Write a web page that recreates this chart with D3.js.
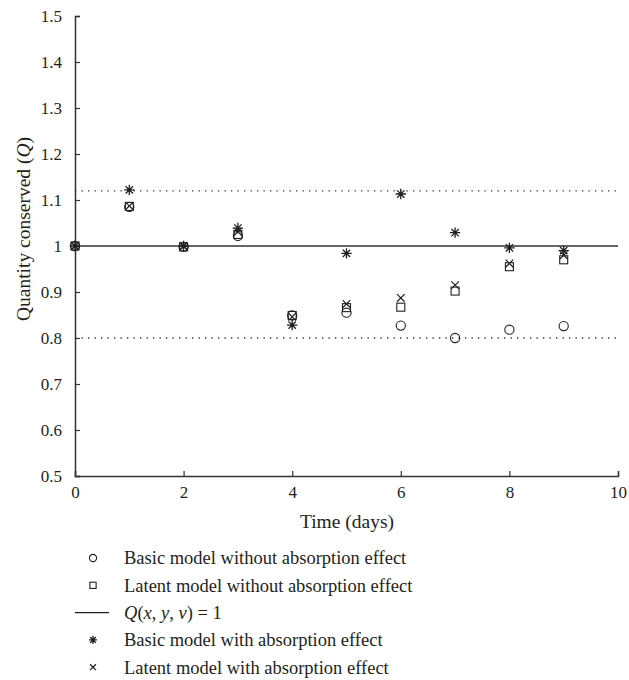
<!DOCTYPE html>
<html>
<head>
<meta charset="utf-8">
<script src="https://cdn.jsdelivr.net/npm/d3@7"></script>
<style>
  body { margin: 0; background: #fff; }
  text { font-family: "Liberation Serif", "DejaVu Serif", serif; fill: #231f20; }
</style>
</head>
<body>
<div id="chart"></div>
<script>
// Quantity conserved over time
var days = [0, 1, 2, 3, 4, 5, 6, 7, 8, 9];
var basicNoAbs = [1.0, 1.085, 0.998, 1.022, 0.849, 0.855, 0.827, 0.800, 0.818, 0.826];
var latentNoAbs = [1.0, 1.086, 0.998, 1.025, 0.849, 0.866, 0.867, 0.902, 0.955, 0.970];
var basicAbs = [1.0, 1.122, 1.0, 1.039, 0.828, 0.984, 1.113, 1.029, 0.996, 0.990];
var latentAbs = [1.0, 1.087, 0.999, 1.031, 0.846, 0.874, 0.887, 0.915, 0.962, 0.980];
var bounds = [1.12, 0.8];
var yTicks = [0.5, 0.6, 0.7, 0.8, 0.9, 1, 1.1, 1.2, 1.3, 1.4, 1.5];
var xTicks = [0, 2, 4, 6, 8, 10];
var legendLabels = [
    "Basic model without absorption effect",
    "Latent model without absorption effect",
    "Q(x, y, v) = 1",
    "Basic model with absorption effect",
    "Latent model with absorption effect"
];

var svgWidth = 629;
var svgHeight = 680;
var margin = { top: 16, right: 11, bottom: 204, left: 75 };
var width = svgWidth - margin.left - margin.right;
var height = svgHeight - margin.top - margin.bottom;
var ink = "#231f20";

var svg = d3.select("#chart")
    .append("svg")
    .attr("width", svgWidth)
    .attr("height", svgHeight);

var chartGroup = svg.append("g")
    .attr("transform", `translate(${margin.left}, ${margin.top})`);

var x = d3.scaleLinear().domain([0, 10]).range([0, width]);
var y = d3.scaleLinear().domain([0.5, 1.5]).range([height, 0]);

// axes with inward ticks
var bottomAxis = d3.axisBottom(x).tickValues(xTicks).tickSize(-5).tickPadding(10).tickFormat(d3.format("d"));
var leftAxis = d3.axisLeft(y).tickValues(yTicks).tickSize(-5).tickPadding(13).tickFormat(d => d === 1 ? "1" : d3.format(".1f")(d));

var xg = chartGroup.append("g")
    .attr("transform", `translate(0, ${height})`)
    .call(bottomAxis);
var yg = chartGroup.append("g").call(leftAxis);

[xg, yg].forEach(function (g) {
    g.select(".domain").attr("stroke", "#333").attr("stroke-width", 1.5);
    g.selectAll(".tick line").attr("stroke", "#333").attr("stroke-width", 1.2);
    g.selectAll(".tick text")
        .attr("font-family", "Liberation Serif, serif")
        .attr("font-size", "17px")
        .attr("fill", ink);
});
yg.selectAll(".tick text").attr("dy", "0.35em");

// reference lines
chartGroup.append("line")
    .attr("x1", x(0)).attr("x2", x(10))
    .attr("y1", y(1)).attr("y2", y(1))
    .attr("stroke", "#333").attr("stroke-width", 1.5);

chartGroup.selectAll(".bound")
    .data(bounds)
    .enter()
    .append("line")
    .attr("class", "bound")
    .attr("x1", x(0)).attr("x2", x(10))
    .attr("y1", d => y(d)).attr("y2", d => y(d))
    .attr("stroke", "#333")
    .attr("stroke-width", 1.3)
    .attr("stroke-dasharray", "1.3,5.2");

// marker paths
function starPath(r) {
    var p = "";
    for (var i = 0; i < 4; i++) {
        var a = i * Math.PI / 4;
        var dx = r * Math.cos(a), dy = r * Math.sin(a);
        p += `M${-dx},${-dy}L${dx},${dy}`;
    }
    return p;
}
function crossPath(r) {
    return `M${-r},${-r}L${r},${r}M${-r},${r}L${r},${-r}`;
}

function drawMarkers(values, kind, big) {
    var g = chartGroup.append("g");
    var pts = g.selectAll("g")
        .data(values)
        .enter()
        .append("g")
        .attr("transform", (d, i) => `translate(${x(days[i])}, ${y(d)})`);
    addShape(pts, kind, big);
}

function addShape(sel, kind, big) {
    var s = big ? 1 : 0.78;
    if (kind === "circle") {
        sel.append("circle").attr("r", 4.6 * s)
            .attr("fill", "none").attr("stroke", ink).attr("stroke-width", 1.1);
    } else if (kind === "square") {
        sel.append("rect").attr("x", -4 * s).attr("y", -4 * s)
            .attr("width", 8 * s).attr("height", 8 * s)
            .attr("fill", "none").attr("stroke", ink).attr("stroke-width", 1.1);
    } else if (kind === "star") {
        sel.append("path").attr("d", starPath(5.2 * s))
            .attr("fill", "none").attr("stroke", ink).attr("stroke-width", 1.3);
    } else if (kind === "cross") {
        sel.append("path").attr("d", crossPath(3.8 * s))
            .attr("fill", "none").attr("stroke", ink).attr("stroke-width", 1.2);
    }
}

drawMarkers(basicNoAbs, "circle", true);
drawMarkers(latentNoAbs, "square", true);
drawMarkers(latentAbs, "cross", true);
drawMarkers(basicAbs, "star", true);

// axis labels
svg.append("text")
    .attr("x", 347)
    .attr("y", 528)
    .attr("text-anchor", "middle")
    .attr("font-size", "19.5px")
    .text("Time (days)");

var yLabel = svg.append("text")
    .attr("transform", "translate(30, 229) rotate(-90)")
    .attr("text-anchor", "middle")
    .attr("font-size", "19.5px");
yLabel.append("tspan").text("Quantity conserved (");
yLabel.append("tspan").attr("font-style", "italic").text("Q");
yLabel.append("tspan").text(")");

// legend
var kinds = ["circle", "square", "line", "star", "cross"];
var legend = svg.append("g");
var rows = legend.selectAll("g")
    .data(legendLabels)
    .enter()
    .append("g")
    .attr("transform", (d, i) => `translate(93, ${558 + i * 27.3})`);

rows.each(function (d, i) {
    var row = d3.select(this);
    if (kinds[i] === "line") {
        row.append("line").attr("x1", -18).attr("x2", 16)
            .attr("stroke", ink).attr("stroke-width", 1.2);
    } else {
        addShape(row, kinds[i], false);
    }
    var t = row.append("text")
        .attr("x", 31)
        .attr("dy", "0.35em")
        .attr("font-size", "18.5px");
    if (kinds[i] === "line") {
        t.append("tspan").attr("font-style", "italic").text("Q");
        t.append("tspan").text("(");
        t.append("tspan").attr("font-style", "italic").text("x");
        t.append("tspan").text(", ");
        t.append("tspan").attr("font-style", "italic").text("y");
        t.append("tspan").text(", ");
        t.append("tspan").attr("font-style", "italic").text("v");
        t.append("tspan").text(") = 1");
    } else {
        t.text(d);
    }
});
</script>
</body>
</html>
